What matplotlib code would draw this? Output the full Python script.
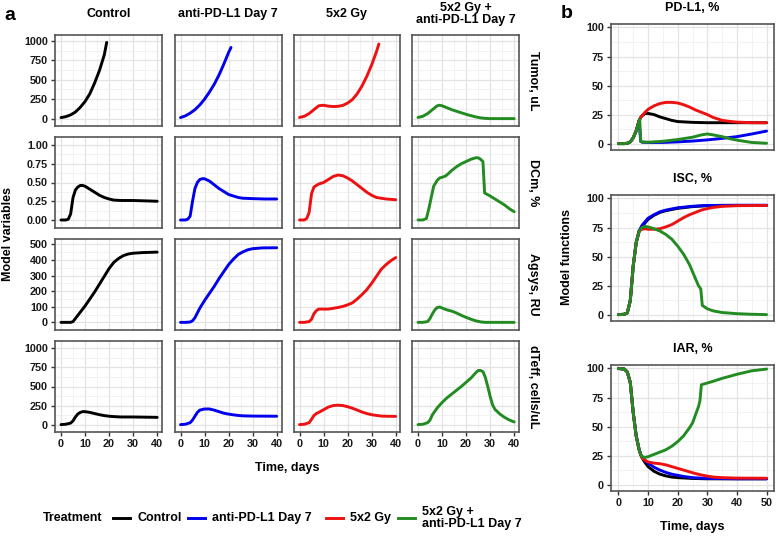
import matplotlib
matplotlib.use("Agg")
import matplotlib.pyplot as plt
from matplotlib.lines import Line2D
from matplotlib.ticker import MultipleLocator, FormatStrFormatter

plt.rcParams["font.family"] = ["Liberation Sans", "DejaVu Sans"]
plt.rcParams["font.weight"] = "bold"

W, H = 778, 536

TREATMENTS = ["Control", "anti-PD-L1 Day 7", "5x2 Gy", "5x2 Gy +\nanti-PD-L1 Day 7"]
COLORS = ["black", "#0000EE", "#EE1111", "#228B22"]
ROW_LABELS = ["Tumor, uL", "DCm, %", "Agsys, RU", "dTeff, cells/uL"]
B_TITLES = ["PD-L1, %", "ISC, %", "IAR, %"]

# ---- panel a: model variables (days, values) ----
tumor_ctrl_d = [0, 2, 4, 6, 8, 10, 12, 14, 16, 18, 19]
tumor_ctrl = [13, 25, 48, 85, 145, 220, 320, 460, 620, 820, 980]
tumor_pdl1_d = [0, 2, 4, 6, 8, 10, 12, 14, 16, 18, 20, 21]
tumor_pdl1 = [13, 35, 70, 115, 175, 250, 340, 440, 560, 700, 850, 915]
tumor_rt_d = [0, 2, 4, 6, 8, 10, 12, 14, 16, 18, 20, 22, 24, 26, 28, 30, 32, 33]
tumor_rt = [15, 30, 65, 115, 165, 172, 160, 155, 158, 170, 200, 245, 320, 420, 545, 690, 860, 960]
tumor_combo_d = [0, 2, 4, 6, 8, 9, 10, 12, 14, 16, 18, 20, 22, 24, 26, 28, 30, 40]
tumor_combo = [15, 30, 65, 115, 165, 172, 165, 140, 115, 95, 75, 55, 38, 22, 10, 3, 0, 0]

dcm_ctrl_d = [0, 2, 3, 4, 5, 6, 7, 8, 9, 10, 12, 14, 16, 18, 20, 22, 25, 30, 35, 40]
dcm_ctrl = [0, 0, 0.01, 0.08, 0.3, 0.4, 0.44, 0.46, 0.46, 0.45, 0.41, 0.37, 0.33, 0.3,
            0.28, 0.265, 0.26, 0.26, 0.255, 0.25]
dcm_pdl1_d = [0, 2, 3, 4, 5, 6, 7, 8, 9, 10, 12, 14, 16, 18, 20, 22, 24, 26, 30, 35, 40]
dcm_pdl1 = [0, 0, 0.01, 0.05, 0.25, 0.42, 0.5, 0.54, 0.55, 0.55, 0.52, 0.47, 0.42, 0.38,
            0.34, 0.32, 0.3, 0.29, 0.285, 0.28, 0.28]
dcm_rt_d = [0, 2, 3, 4, 5, 6, 8, 10, 12, 14, 16, 18, 20, 22, 24, 26, 28, 30, 32, 34, 36, 38, 40]
dcm_rt = [0, 0, 0.02, 0.1, 0.35, 0.44, 0.48, 0.5, 0.54, 0.58, 0.6, 0.59, 0.56, 0.52, 0.47,
          0.42, 0.37, 0.33, 0.3, 0.29, 0.28, 0.275, 0.27]
dcm_combo_d = [0, 2, 3.5, 4.5, 5.5, 6.5, 8, 9, 10, 11, 12, 14, 16, 18, 20, 22, 24, 25, 26,
               27, 27.7, 30, 32, 34, 36, 38, 40]
dcm_combo = [0, 0, 0.02, 0.15, 0.3, 0.45, 0.53, 0.56, 0.57, 0.58, 0.6, 0.66, 0.71, 0.75,
             0.78, 0.81, 0.83, 0.83, 0.81, 0.78, 0.36, 0.32, 0.28, 0.24, 0.2, 0.15, 0.11]

agsys_ctrl_d = [0, 2, 4, 5, 6, 8, 10, 12, 14, 16, 18, 20, 22, 24, 26, 28, 30, 34, 40]
agsys_ctrl = [0, 0, 0, 5, 25, 65, 105, 150, 195, 245, 295, 345, 385, 410, 428, 438, 443, 447, 450]
agsys_pdl1_d = [0, 2, 4, 5, 6, 8, 10, 12, 14, 16, 18, 20, 22, 24, 26, 28, 30, 34, 40]
agsys_pdl1 = [0, 0, 2, 10, 30, 90, 140, 185, 230, 280, 325, 370, 405, 435, 452, 465, 472, 477, 478]
agsys_rt_d = [0, 2, 4, 5, 6, 7, 8, 10, 12, 14, 16, 18, 20, 22, 24, 26, 28, 30, 32, 34, 36, 38, 40]
agsys_rt = [0, 0, 5, 20, 55, 75, 85, 85, 85, 90, 95, 102, 112, 125, 150, 178, 210, 250, 295,
            340, 370, 395, 415]
agsys_combo_d = [0, 2, 4, 5, 6, 7, 8, 9, 10, 12, 14, 16, 18, 20, 22, 24, 26, 28, 40]
agsys_combo = [0, 0, 5, 25, 55, 80, 95, 98, 92, 80, 72, 60, 45, 32, 20, 10, 3, 0, 0]

dteff_ctrl_d = [0, 2, 4, 5, 6, 7, 8, 9, 10, 12, 14, 16, 18, 20, 22, 25, 30, 40]
dteff_ctrl = [0, 5, 20, 50, 100, 140, 160, 170, 170, 160, 145, 130, 118, 110, 105, 100, 100, 95]
dteff_pdl1_d = [0, 2, 4, 5, 6, 7, 8, 10, 12, 14, 16, 18, 20, 22, 24, 26, 30, 40]
dteff_pdl1 = [0, 5, 25, 60, 110, 160, 190, 205, 205, 190, 170, 150, 138, 128, 120, 115, 112, 110]
dteff_rt_d = [0, 2, 4, 5, 6, 7, 8, 10, 12, 14, 16, 18, 20, 22, 24, 26, 28, 30, 32, 34, 36, 40]
dteff_rt = [0, 5, 25, 70, 120, 145, 160, 195, 230, 250, 255, 250, 235, 215, 190, 165, 145,
            130, 120, 112, 110, 108]
dteff_combo_d = [0, 2, 4, 5, 6, 8, 10, 12, 14, 16, 18, 20, 22, 24, 25, 26, 27, 28, 29, 30,
                 31, 32, 34, 36, 38, 40]
dteff_combo = [0, 5, 25, 60, 130, 220, 290, 350, 400, 450, 500, 555, 610, 680, 710, 710,
               695, 620, 500, 370, 260, 200, 140, 95, 60, 35]

# ---- panel b: model functions (days, values) ----
pdl1_ctrl_d = [0, 1, 2, 3, 4, 5, 6, 7, 7.5, 8, 9, 10, 12, 14, 16, 18, 20, 25, 30, 40, 50]
pdl1_ctrl = [0, 0, 0, 0.3, 1.5, 5, 11, 20, 22.5, 24, 26, 26, 25, 23, 21.5, 20, 19, 18.3, 18, 18, 18]
pdl1_pdl1_d = [0, 1, 2, 3, 4, 5, 6, 7, 7.5, 8, 10, 15, 20, 25, 30, 35, 40, 45, 50]
pdl1_pdl1 = [0, 0, 0, 0.3, 1.5, 5, 11, 20, 2, 1.2, 1, 1, 1.5, 2.2, 3.2, 4.5, 6, 8.3, 10.8]
pdl1_rt_d = [0, 1, 2, 3, 4, 5, 6, 7, 7.5, 8, 9, 10, 12, 14, 16, 18, 20, 22, 24, 26, 28, 30,
             32, 35, 38, 40, 45, 50]
pdl1_rt = [0, 0, 0, 0.3, 1.5, 5, 11, 20, 22.5, 24, 27, 29.5, 32.5, 34.5, 35.5, 35.5, 35,
           33.5, 31.5, 29, 27, 25, 22.5, 20, 19, 18.5, 18, 18]
pdl1_combo_d = [0, 1, 2, 3, 4, 5, 6, 7.2, 7.5, 8, 10, 15, 20, 25, 28, 30, 32, 35, 38, 40, 45, 50]
pdl1_combo = [0, 0, 0, 0.3, 1.5, 5, 11, 21, 2, 1.5, 1.2, 2, 3.5, 5.5, 7.5, 8.3, 7.5, 6, 4, 3, 1, 0.3]

isc_ctrl_d = [0, 2, 3, 4, 5, 6, 7, 8, 9, 10, 12, 14, 16, 18, 20, 25, 30, 40, 50]
isc_ctrl = [0, 0.3, 1.5, 12, 42, 62, 72, 76, 79, 82, 85.5, 88, 89.5, 90.5, 91.5, 93, 93.8, 94, 94]
isc_pdl1_d = [0, 2, 3, 4, 5, 6, 7, 8, 9, 10, 12, 14, 16, 18, 20, 25, 30, 40, 50]
isc_pdl1 = [0, 0.3, 1.5, 12, 42, 62, 72, 77, 80, 83, 86, 88.5, 90, 91, 92, 93.3, 94, 94.2, 94.2]
isc_rt_d = [0, 2, 3, 4, 5, 6, 7, 8, 9, 10, 12, 14, 16, 18, 20, 22, 24, 26, 28, 30, 32, 35, 40, 50]
isc_rt = [0, 0.3, 1.5, 12, 42, 62, 72, 73.5, 74, 73.5, 73.5, 74, 75.5, 77.5, 80.5, 83.5,
          86, 88, 90, 91.3, 92.3, 93.2, 93.8, 94]
isc_combo_d = [0, 2, 3, 4, 5, 6, 7, 8, 9, 10, 12, 14, 16, 18, 20, 22, 24, 26, 27, 27.8,
               28.3, 30, 32, 35, 40, 45, 50]
isc_combo = [0, 0.3, 1.5, 12, 42, 62, 72, 75, 76, 75.5, 74, 72, 69, 65, 59, 52, 43, 31, 25,
             22, 8, 5, 3.2, 1.8, 0.8, 0.3, 0]

iar_ctrl_d = [0, 2, 3, 4, 5, 6, 7, 7.5, 8, 9, 10, 12, 14, 16, 18, 20, 25, 30, 50]
iar_ctrl = [100, 99.5, 97, 88, 62, 42, 30, 26, 23, 19, 15.5, 11.5, 9, 7.5, 6.5, 6, 5.3, 5, 5]
iar_pdl1_d = [0, 2, 3, 4, 5, 6, 7, 7.5, 8, 9, 10, 12, 14, 16, 18, 20, 22, 25, 30, 40, 50]
iar_pdl1 = [100, 99.5, 97, 88, 62, 42, 30, 26, 24, 21, 18.5, 15, 12.5, 10.5, 9, 8, 7, 6, 5.3, 5, 5]
iar_rt_d = [0, 2, 3, 4, 5, 6, 7, 7.5, 8, 9, 10, 12, 14, 16, 18, 20, 22, 24, 26, 28, 30, 32,
            35, 40, 50]
iar_rt = [100, 99.5, 97, 88, 62, 42, 30, 26, 23, 21, 19.5, 18.5, 18, 17, 15.5, 14, 12.5, 11,
          9.5, 8.3, 7.3, 6.5, 6, 5.6, 5.5]
iar_combo_d = [0, 2, 3, 4, 5, 6, 7, 7.5, 8, 9, 10, 12, 14, 16, 18, 20, 22, 24, 25, 26, 27,
               27.5, 28, 30, 32, 35, 40, 45, 50]
iar_combo = [100, 99.5, 97, 88, 62, 42, 30, 26, 24, 23.5, 24, 26, 28, 30, 33, 37, 42, 49,
             53, 60, 67, 72, 86, 87.5, 89, 91.5, 95, 98, 99.5]

A_ROWS = [
    [(tumor_ctrl_d, tumor_ctrl), (tumor_pdl1_d, tumor_pdl1), (tumor_rt_d, tumor_rt), (tumor_combo_d, tumor_combo)],
    [(dcm_ctrl_d, dcm_ctrl), (dcm_pdl1_d, dcm_pdl1), (dcm_rt_d, dcm_rt), (dcm_combo_d, dcm_combo)],
    [(agsys_ctrl_d, agsys_ctrl), (agsys_pdl1_d, agsys_pdl1), (agsys_rt_d, agsys_rt), (agsys_combo_d, agsys_combo)],
    [(dteff_ctrl_d, dteff_ctrl), (dteff_pdl1_d, dteff_pdl1), (dteff_rt_d, dteff_rt), (dteff_combo_d, dteff_combo)],
]
B_PANELS = [
    [(pdl1_ctrl_d, pdl1_ctrl), (pdl1_pdl1_d, pdl1_pdl1), (pdl1_rt_d, pdl1_rt), (pdl1_combo_d, pdl1_combo)],
    [(isc_ctrl_d, isc_ctrl), (isc_pdl1_d, isc_pdl1), (isc_rt_d, isc_rt), (isc_combo_d, isc_combo)],
    [(iar_ctrl_d, iar_ctrl), (iar_pdl1_d, iar_pdl1), (iar_rt_d, iar_rt), (iar_combo_d, iar_combo)],
]

A_YLIM = [(-95, 1075), (-0.107, 1.107), (-49, 534), (-97, 1097)]
A_YSTEP = [250, 0.25, 100, 250]
A_YFMT = ["%d", "%.2f", "%d", "%d"]

TICK = 7.8
LABEL = 9


def px_axes(fig, left, top, w, h):
    return fig.add_axes([left / W, 1 - (top + h) / H, w / W, h / H])


def style(ax, xlim, ylim, xstep, ystep, show_x, show_y, yfmt="%d"):
    ax.set_xlim(*xlim)
    ax.set_ylim(*ylim)
    ax.xaxis.set_major_locator(MultipleLocator(xstep))
    ax.xaxis.set_minor_locator(MultipleLocator(xstep / 2))
    ax.yaxis.set_major_locator(MultipleLocator(ystep))
    ax.yaxis.set_minor_locator(MultipleLocator(ystep / 2))
    ax.yaxis.set_major_formatter(FormatStrFormatter(yfmt))
    ax.grid(which="major", color="#E3E3E3", lw=0.9)
    ax.grid(which="minor", color="#F0F0F0", lw=0.6)
    ax.set_axisbelow(True)
    for s in ax.spines.values():
        s.set_color("#555555")
        s.set_linewidth(1.2)
    ax.tick_params(which="minor", length=0)
    ax.tick_params(which="major", labelsize=TICK, color="#333333",
                   labelcolor="#1A1A1A", length=3, width=1, pad=2)
    if not show_x:
        ax.tick_params(axis="x", which="major", length=0, labelbottom=False)
    if not show_y:
        ax.tick_params(axis="y", which="major", length=0, labelleft=False)


fig = plt.figure(figsize=(W / 100, H / 100), dpi=100)
fig.patch.set_facecolor("white")

# panel a
col_left = [55, 174.5, 293.5, 412]
row_top = [35, 137, 239, 341]
pw, ph = 107, 91
for r in range(4):
    for c in range(4):
        ax = px_axes(fig, col_left[c], row_top[r], pw, ph)
        days, vals = A_ROWS[r][c]
        ax.plot(days, vals, color=COLORS[c], lw=2.1, solid_capstyle="round")
        style(ax, (-2.5, 42), A_YLIM[r], 10, A_YSTEP[r], r == 3, c == 0, A_YFMT[r])
    fig.text(533 / W, 1 - (row_top[r] + ph / 2) / H, ROW_LABELS[r], rotation=270,
             ha="center", va="center", fontsize=LABEL)

for c in range(4):
    fig.text((col_left[c] + pw / 2) / W, 1 - 14 / H, TREATMENTS[c], ha="center",
             va="center", fontsize=LABEL, linespacing=1.0)

fig.text(4 / W, 1 - 15 / H, "a", fontsize=14, ha="left", va="center")
fig.text(8 / W, 1 - 234 / H, "Model variables", rotation=90, ha="center",
         va="center", fontsize=LABEL)
fig.text(287 / W, 1 - 468 / H, "Time, days", ha="center", va="center", fontsize=LABEL)

# panel b
b_top = [24, 195, 365]
bw, bh = 163, 126
for i in range(3):
    ax = px_axes(fig, 611, b_top[i], bw, bh)
    for k in range(4):
        days, vals = B_PANELS[i][k]
        ax.plot(days, vals, color=COLORS[k], lw=2.1, solid_capstyle="round")
    style(ax, (-2.5, 52.5), (-5.5, 103), 10, 25, i == 2, True)
    fig.text((611 + bw / 2) / W, 1 - (b_top[i] - 16) / H, B_TITLES[i], ha="center",
             va="center", fontsize=LABEL)

fig.text(567 / W, 1 - 14 / H, "b", fontsize=14, ha="center", va="center")
fig.text(567 / W, 1 - 257 / H, "Model functions", rotation=90, ha="center",
         va="center", fontsize=LABEL)
fig.text(692 / W, 1 - 527 / H, "Time, days", ha="center", va="center", fontsize=LABEL)

# legend
ly = 1 - 518 / H
fig.text(43 / W, ly, "Treatment", ha="left", va="center", fontsize=LABEL)
key_x = [113, 188, 326, 398]
for k in range(4):
    fig.add_artist(Line2D([key_x[k] / W, (key_x[k] + 17) / W], [ly, ly],
                          transform=fig.transFigure, color=COLORS[k], lw=2.1))
    fig.text((key_x[k] + 24) / W, ly, TREATMENTS[k], ha="left", va="center",
             fontsize=LABEL, linespacing=1.0)

fig.savefig("out.png", dpi=100, facecolor="white")
